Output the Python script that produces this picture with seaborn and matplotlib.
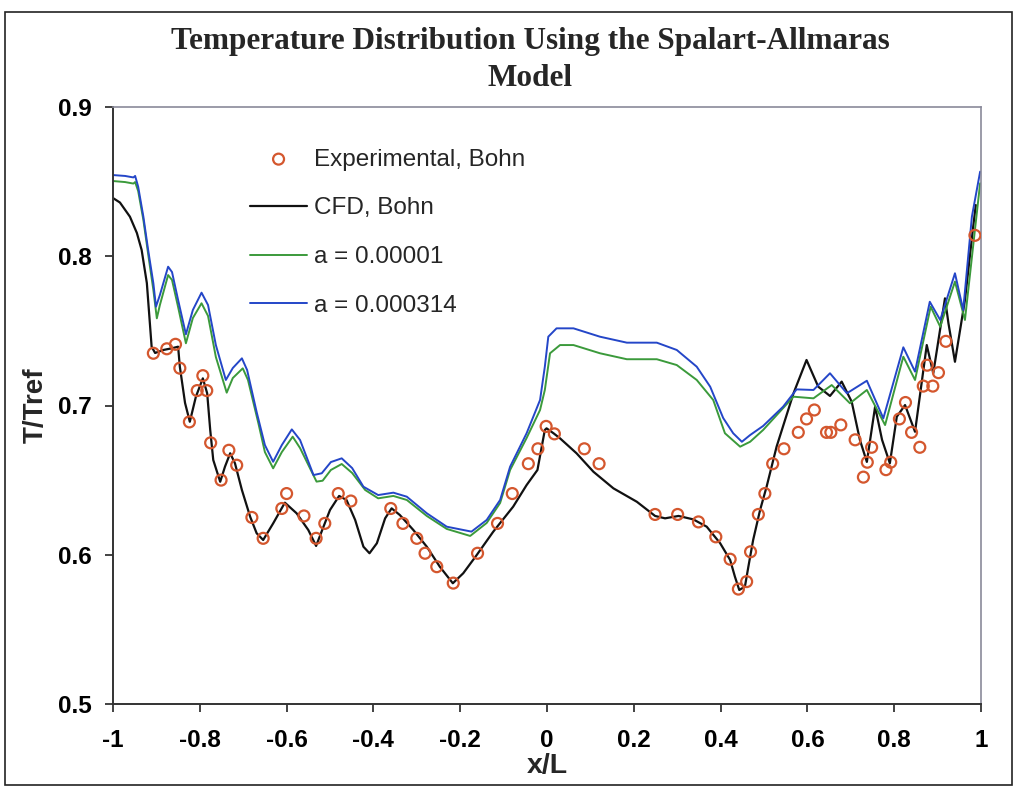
import numpy as np
import pandas as pd
import matplotlib
matplotlib.use("Agg")
import matplotlib.pyplot as plt
from matplotlib.patches import Rectangle
import seaborn as sns

# Experimental data (Bohn)
exp_x = [-0.907, -0.876, -0.856, -0.846, -0.824, -0.806, -0.793, -0.784, -0.775, -0.751,
         -0.733, -0.715, -0.680, -0.654, -0.611, -0.600, -0.560, -0.532, -0.512, -0.481,
         -0.452, -0.360, -0.332, -0.300, -0.281, -0.254, -0.216, -0.160, -0.114, -0.080,
         -0.043, -0.021, -0.002, 0.017, 0.086, 0.120, 0.249, 0.301, 0.349, 0.389,
         0.422, 0.441, 0.460, 0.469, 0.487, 0.502, 0.520, 0.546, 0.579, 0.598,
         0.616, 0.644, 0.654, 0.677, 0.710, 0.729, 0.738, 0.748, 0.781, 0.792,
         0.812, 0.826, 0.840, 0.859, 0.867, 0.876, 0.889, 0.902, 0.919, 0.986]
exp_y = [0.735, 0.738, 0.741, 0.725, 0.689, 0.710, 0.720, 0.710, 0.675, 0.650,
         0.670, 0.660, 0.625, 0.611, 0.631, 0.641, 0.626, 0.611, 0.621, 0.641,
         0.636, 0.631, 0.621, 0.611, 0.601, 0.592, 0.581, 0.601, 0.621, 0.641,
         0.661, 0.671, 0.686, 0.681, 0.671, 0.661, 0.627, 0.627, 0.622, 0.612,
         0.597, 0.577, 0.582, 0.602, 0.627, 0.641, 0.661, 0.671, 0.682, 0.691,
         0.697, 0.682, 0.682, 0.687, 0.677, 0.652, 0.662, 0.672, 0.657, 0.662,
         0.691, 0.702, 0.682, 0.672, 0.713, 0.727, 0.713, 0.722, 0.743, 0.814]

# CFD, Bohn
cfd_x = [-1.000, -0.984, -0.961, -0.945, -0.934, -0.922, -0.911, -0.903, -0.884, -0.865,
         -0.850, -0.846, -0.834, -0.823, -0.809, -0.793, -0.783, -0.776, -0.769, -0.753,
         -0.742, -0.730, -0.719, -0.703, -0.684, -0.669, -0.654, -0.631, -0.604, -0.577,
         -0.550, -0.532, -0.515, -0.500, -0.479, -0.462, -0.442, -0.423, -0.409, -0.392,
         -0.373, -0.358, -0.339, -0.308, -0.277, -0.247, -0.217, -0.193, -0.162, -0.124,
         -0.078, -0.047, -0.022, -0.005, -0.001, 0.015, 0.030, 0.068, 0.107, 0.153,
         0.207, 0.249, 0.272, 0.303, 0.337, 0.368, 0.399, 0.422, 0.433, 0.443,
         0.456, 0.464, 0.475, 0.491, 0.506, 0.529, 0.568, 0.598, 0.625, 0.652,
         0.679, 0.702, 0.721, 0.737, 0.756, 0.772, 0.790, 0.806, 0.825, 0.848,
         0.875, 0.890, 0.917, 0.925, 0.940, 0.963, 0.982, 0.988]
cfd_y = [0.839, 0.836, 0.8265, 0.8156, 0.8042, 0.782, 0.7394, 0.7352, 0.7372, 0.7383,
         0.7394, 0.726, 0.7017, 0.6891, 0.7059, 0.7182, 0.7082, 0.6836, 0.6635, 0.6489,
         0.659, 0.668, 0.6613, 0.6434, 0.6255, 0.6144, 0.6099, 0.621, 0.6349, 0.6278,
         0.6166, 0.6059, 0.6188, 0.630, 0.6394, 0.6367, 0.6233, 0.6054, 0.601, 0.6077,
         0.6244, 0.6311, 0.6266, 0.6166, 0.6054, 0.592, 0.5809, 0.5876, 0.5998, 0.6154,
         0.6322, 0.6467, 0.6568, 0.6836, 0.6847, 0.6814, 0.678, 0.668, 0.6556, 0.6445,
         0.6355, 0.626, 0.6244, 0.626, 0.6237, 0.6188, 0.6077, 0.5965, 0.5853, 0.5764,
         0.5786, 0.592, 0.6099, 0.630, 0.6456, 0.6724, 0.7082, 0.7305, 0.7126, 0.7064,
         0.716, 0.7026, 0.6769, 0.6622, 0.6992, 0.677, 0.6613, 0.6925, 0.7003, 0.6824,
         0.7405, 0.7216, 0.7718, 0.7551, 0.7293, 0.7707, 0.8198, 0.8343]

# a = 0.00001
a1_x = [-1.000, -0.972, -0.953, -0.949, -0.942, -0.930, -0.919, -0.907, -0.899, -0.892,
        -0.873, -0.864, -0.850, -0.832, -0.816, -0.796, -0.781, -0.763, -0.738, -0.724,
        -0.701, -0.689, -0.665, -0.650, -0.631, -0.611, -0.586, -0.569, -0.531, -0.517,
        -0.498, -0.473, -0.449, -0.419, -0.389, -0.354, -0.323, -0.277, -0.231, -0.177,
        -0.139, -0.108, -0.085, -0.047, -0.016, -0.005, 0.007, 0.030, 0.061, 0.122,
        0.184, 0.253, 0.299, 0.345, 0.383, 0.410, 0.445, 0.468, 0.498, 0.568,
        0.614, 0.656, 0.698, 0.737, 0.779, 0.821, 0.848, 0.884, 0.906, 0.940,
        0.963, 0.986, 0.998]
a1_y = [0.8504, 0.8497, 0.8487, 0.8497, 0.8437, 0.8243, 0.8015, 0.7774, 0.7584, 0.7673,
        0.7874, 0.7841, 0.766, 0.7417, 0.7586, 0.7685, 0.760, 0.7325, 0.7086, 0.7184,
        0.7249, 0.7171, 0.6881, 0.6688, 0.6579, 0.6688, 0.6791, 0.6715, 0.649, 0.6496,
        0.6568, 0.6608, 0.6548, 0.6434, 0.6378, 0.6394, 0.6367, 0.626, 0.6173, 0.6126,
        0.6213, 0.6347, 0.6568, 0.6782, 0.697, 0.7104, 0.735, 0.7405, 0.7405, 0.735,
        0.731, 0.731, 0.7271, 0.7171, 0.7037, 0.6814, 0.6724, 0.6757, 0.6836, 0.7059,
        0.7048, 0.7137, 0.7015, 0.7104, 0.6869, 0.7327, 0.7171, 0.7662, 0.7528, 0.783,
        0.7573, 0.8176, 0.8489]

# a = 0.000314
a2_x = [-1.000, -0.972, -0.953, -0.949, -0.942, -0.930, -0.919, -0.907, -0.901, -0.892,
        -0.873, -0.864, -0.850, -0.832, -0.816, -0.796, -0.781, -0.763, -0.740, -0.724,
        -0.703, -0.691, -0.669, -0.650, -0.631, -0.611, -0.588, -0.569, -0.538, -0.519,
        -0.498, -0.473, -0.449, -0.423, -0.389, -0.354, -0.323, -0.277, -0.231, -0.174,
        -0.139, -0.108, -0.085, -0.047, -0.016, -0.005, 0.003, 0.022, 0.061, 0.122,
        0.184, 0.253, 0.299, 0.345, 0.376, 0.406, 0.429, 0.449, 0.468, 0.498,
        0.544, 0.575, 0.614, 0.652, 0.691, 0.737, 0.775, 0.821, 0.848, 0.882,
        0.906, 0.940, 0.959, 0.979, 0.998]
a2_y = [0.8544, 0.8538, 0.8528, 0.8538, 0.8466, 0.8265, 0.8042, 0.7819, 0.7662, 0.774,
        0.793, 0.7894, 0.7707, 0.7477, 0.764, 0.7756, 0.7673, 0.7405, 0.7171, 0.7251,
        0.7316, 0.7238, 0.6956, 0.6735, 0.6623, 0.6735, 0.684, 0.6769, 0.6534, 0.6546,
        0.6621, 0.6646, 0.6581, 0.6456, 0.640, 0.6416, 0.6389, 0.6278, 0.6188, 0.6155,
        0.6233, 0.6367, 0.659, 0.6814, 0.7037, 0.726, 0.7461, 0.7517, 0.7517, 0.7461,
        0.7421, 0.7421, 0.7372, 0.726, 0.7126, 0.6916, 0.6814, 0.6757, 0.6802, 0.6863,
        0.6992, 0.7108, 0.7104, 0.7216, 0.7082, 0.7166, 0.6914, 0.739, 0.7227, 0.7695,
        0.7573, 0.7886, 0.764, 0.8265, 0.8567]

x_ticks = [-1, -0.8, -0.6, -0.4, -0.2, 0, 0.2, 0.4, 0.6, 0.8, 1]
x_tick_labels = ["-1", "-0.8", "-0.6", "-0.4", "-0.2", "0", "0.2", "0.4", "0.6", "0.8", "1"]
y_ticks = [0.5, 0.6, 0.7, 0.8, 0.9]
y_tick_labels = ["0.5", "0.6", "0.7", "0.8", "0.9"]

sns.set_theme(style="white")
plt.rcParams["font.family"] = ["Liberation Sans", "DejaVu Sans"]

fig = plt.figure(figsize=(10.16, 7.87), dpi=100)
ax = fig.add_axes([113 / 1016, 1 - 704 / 787, (981 - 113) / 1016, (704 - 107) / 787])

# outer frame around the whole chart
fig.patches.append(Rectangle((5 / 1016, 0.002), 1007 / 1016, 1 - 12 / 787 - 0.002,
                             transform=fig.transFigure, fill=False,
                             edgecolor="#222222", linewidth=1.2))

exp_df = pd.DataFrame({"x": exp_x, "y": exp_y})
cfd_df = pd.DataFrame({"x": cfd_x, "y": cfd_y})
a1_df = pd.DataFrame({"x": a1_x, "y": a1_y})
a2_df = pd.DataFrame({"x": a2_x, "y": a2_y})

sns.scatterplot(data=exp_df, x="x", y="y", ax=ax, marker="o", s=62,
                facecolor="none", edgecolor="#d4572e", linewidth=1.6,
                label="Experimental, Bohn", zorder=5)
sns.lineplot(data=cfd_df, x="x", y="y", ax=ax, sort=False, estimator=None,
             color="#111111", linewidth=1.6, label="CFD, Bohn")
sns.lineplot(data=a1_df, x="x", y="y", ax=ax, sort=False, estimator=None,
             color="#3b9a3b", linewidth=1.4, label="a = 0.00001")
sns.lineplot(data=a2_df, x="x", y="y", ax=ax, sort=False, estimator=None,
             color="#2446c8", linewidth=1.4, label="a = 0.000314")

ax.set_xlim(-1, 1)
ax.set_ylim(0.5, 0.9)
ax.set_xticks(x_ticks)
ax.set_xticklabels(x_tick_labels)
ax.set_yticks(y_ticks)
ax.set_yticklabels(y_tick_labels)
ax.tick_params(axis="both", direction="out", length=6, width=1.2, colors="#222222",
               labelsize=17.5)
ax.tick_params(axis="x", pad=12)
ax.tick_params(axis="y", pad=9)
for lab in ax.get_xticklabels() + ax.get_yticklabels():
    lab.set_fontweight("bold")
    lab.set_color("black")
ax.xaxis.set_ticks_position("bottom")
ax.yaxis.set_ticks_position("left")

for side in ["left", "bottom"]:
    ax.spines[side].set_color("#333333")
    ax.spines[side].set_linewidth(1.4)
for side in ["top", "right"]:
    ax.spines[side].set_color("#8a8a9a")
    ax.spines[side].set_linewidth(1.2)

ax.set_xlabel("x/L", fontsize=20.5, fontweight="bold", labelpad=1)
ax.set_ylabel("T/Tref", fontsize=20, fontweight="bold", labelpad=7)

title_font = ["Liberation Serif", "DejaVu Serif"]
fig.text(530 / 1016, 1 - 41 / 787, "Temperature Distribution Using the Spalart-Allmaras",
         ha="center", va="center", fontsize=22.5, fontweight="bold", family=title_font)
fig.text(530 / 1016, 1 - 79 / 787, "Model",
         ha="center", va="center", fontsize=22.5, fontweight="bold", family=title_font)

leg = ax.legend(loc="upper left", bbox_to_anchor=((250 - 113) / 868, 1 - (148.5 - 107) / 597),
                frameon=False, fontsize=17.5, handlelength=2.35, handletextpad=0.28,
                labelspacing=1.1, borderaxespad=0, borderpad=0)

fig.savefig("out.png", dpi=100)
